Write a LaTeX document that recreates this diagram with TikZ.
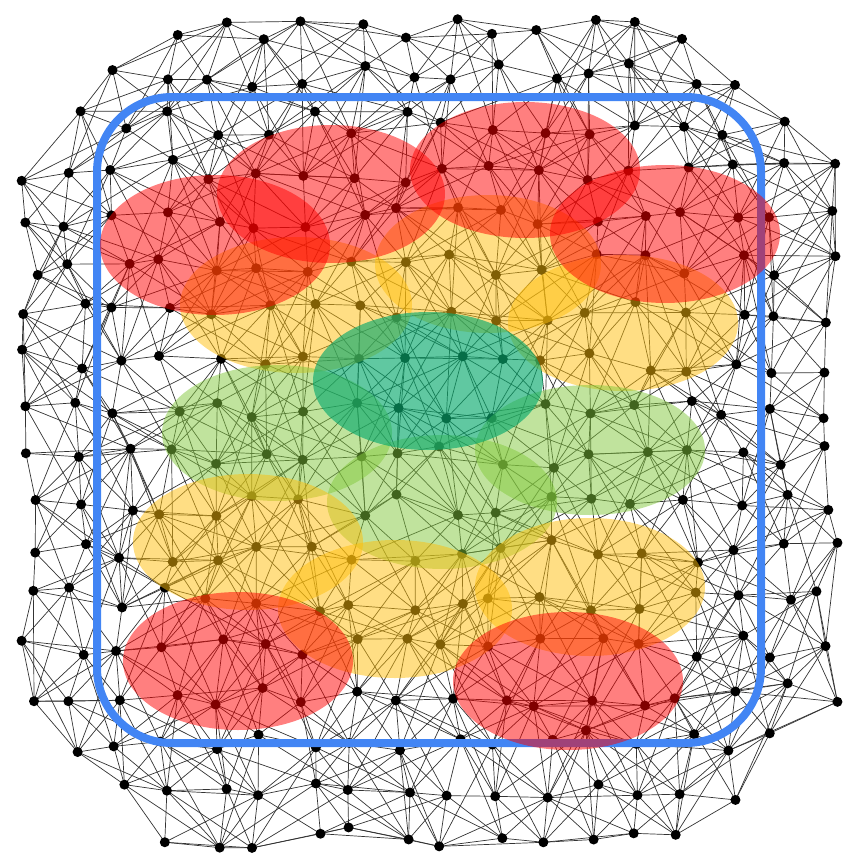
\documentclass[tikz,border=0pt]{standalone}
\definecolor{frameblue}{RGB}{66,133,244}
\definecolor{bred}{RGB}{255,0,0}
\definecolor{byel}{RGB}{255,190,10}
\definecolor{bgreen}{RGB}{130,200,60}
\definecolor{bteal}{RGB}{10,170,110}
\begin{document}
\begin{tikzpicture}[x=1pt,y=-1pt,
  edge/.style={draw=black!80,line width=0.7pt},
  dot/.style={circle,fill=black,inner sep=0pt,minimum size=10pt},
  blob/.style={fill opacity=0.5,draw=none},
  frame/.style={draw=frameblue,line width=8pt,rounded corners=75pt}]
\useasboundingbox (0,0) rectangle (856,867);
\pgfmathsetseed{23}
\foreach \i in {0,...,17}{\foreach \j in {0,...,17}{
  \pgfmathsetmacro{\px}{28+\i*47+12*rand}
  \pgfmathsetmacro{\py}{28+\j*47.6+12*rand}
  \coordinate (p-\i-\j) at (\px,\py);
}}
\foreach \i in {0,...,17}{\foreach \j in {0,...,17}{
  \foreach \di/\dj/\pr in {1/0/1,0/1/1,1/1/0.85,1/-1/0.85,2/1/0.55,1/2/0.55,2/-1/0.55,1/-2/0.55,2/0/0.3,0/2/0.3}{
    \pgfmathtruncatemacro{\ii}{\i+\di}
    \pgfmathtruncatemacro{\jj}{\j+\dj}
    \pgfmathtruncatemacro{\ok}{(\ii<18)&&(\jj>=0)&&(\jj<18)&&(abs(\i-8.5)+abs(\j-8.5)<=14)&&(abs(\ii-8.5)+abs(\jj-8.5)<=14)&&(rnd<\pr)}
    \ifnum\ok=1 \draw[edge] (p-\i-\j) -- (p-\ii-\jj); \fi
  }}}
\foreach \i in {0,...,17}{\foreach \j in {0,...,17}{
  \pgfmathtruncatemacro{\ok}{abs(\i-8.5)+abs(\j-8.5)<=14}
  \ifnum\ok=1 \node[dot] (n-\i-\j) at (p-\i-\j) {}; \fi
}}
\draw[frame] (97,97) rectangle (761,743);
% ellipses
\fill[blob,byel] (296,305) ellipse [x radius=116,y radius=68];
\fill[blob,byel] (488,264) ellipse [x radius=113,y radius=69];
\fill[blob,byel] (623,323) ellipse [x radius=115,y radius=68];
\fill[blob,bgreen] (277,433) ellipse [x radius=115,y radius=68];
\fill[blob,bgreen] (590,450) ellipse [x radius=115,y radius=65];
\fill[blob,bgreen] (442,502) ellipse [x radius=115,y radius=67];
\fill[bteal,fill opacity=0.65] (428,381) ellipse [x radius=115,y radius=69];
\fill[blob,byel] (248,542) ellipse [x radius=115,y radius=68];
\fill[blob,byel] (395,609) ellipse [x radius=117,y radius=69];
\fill[blob,byel] (590,587) ellipse [x radius=115,y radius=69];
\fill[blob,bred] (215,245) ellipse [x radius=115,y radius=70];
\fill[blob,bred] (331,194) ellipse [x radius=114,y radius=69];
\fill[blob,bred] (525,170) ellipse [x radius=115,y radius=68];
\fill[blob,bred] (665,234) ellipse [x radius=115,y radius=69];
\fill[blob,bred] (238,661) ellipse [x radius=115,y radius=69];
\fill[blob,bred] (568,681) ellipse [x radius=115,y radius=69];
\end{tikzpicture}
\end{document}
